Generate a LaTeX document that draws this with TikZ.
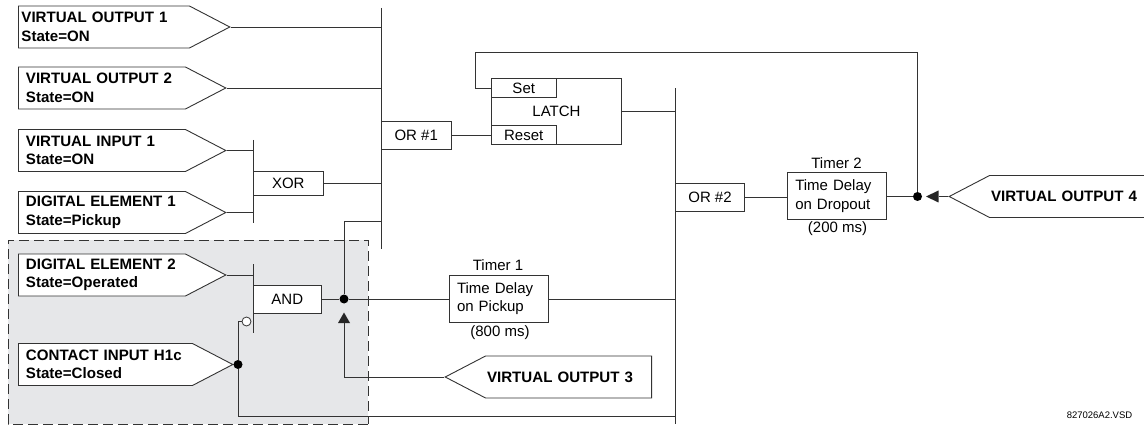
\documentclass[tikz,border=0pt]{standalone}
\usepackage{fontspec}
\setmainfont{Liberation Sans}
\usetikzlibrary{shapes.symbols}
\definecolor{linegray}{HTML}{333333}
\definecolor{zonegray}{HTML}{E6E7E9}
\tikzset{
    wire/.style={draw=linegray, line width=0.9pt},
    tagout/.style={draw=linegray, line width=0.9pt, fill=white, shape=signal, signal to=east,
        signal pointer angle=55, minimum height=42pt, inner ysep=0pt, align=left,
        font=\fontsize{15.1}{18.5}\selectfont\bfseries, anchor=west},
    tagin/.style={tagout, signal to=west, anchor=east, inner xsep=1.5pt},
    gatebox/.style={draw=linegray, line width=0.9pt, fill=white, inner sep=0pt,
        font=\fontsize{15}{18.5}\selectfont},
    plain/.style={inner sep=0pt, font=\fontsize{15}{18.5}\selectfont},
    timerbox/.style={gatebox, align=left, inner xsep=7.5pt, text width=83.5pt, minimum height=47pt},
    junction/.style={circle, fill=black, inner sep=0pt, minimum size=9pt}
}
\begin{document}
\begin{tikzpicture}[x=1pt,y=-1pt]
    \useasboundingbox (0,0) rectangle (1144,425);

    % 1. Vung nen xam
    \fill[zonegray] (8,240) rectangle (368,424);
    \draw[linegray, line width=0.8pt, dash pattern=on 10pt off 5pt] (368,424) -- (8,424) -- (8,240) -- (368,240) -- (368,424);

    % 2. Cac thanh gop
    \coordinate (bus1top) at (381,8);
    \coordinate (bus1bot) at (381,249);
    \coordinate (bus2top) at (675.5,88.5);
    \coordinate (bus2bot) at (675.5,424);
    \coordinate (xortop) at (253,140);
    \coordinate (xorbot) at (253,223);
    \coordinate (andtop) at (253,264);
    \coordinate (andbot) at (253,333);
    \draw[wire] (bus1top) -- (bus1bot);
    \draw[wire] (bus2top) -- (bus2bot);
    \draw[wire] (xortop) -- (xorbot);
    \draw[wire] (andtop) -- (andbot);

    % 3. Cac tin hieu vao
    \node[tagout, inner xsep=3pt, text width=165pt] (vo1) at (18,27) {VIRTUAL OUTPUT 1\\State=ON};
    \node[tagout, inner xsep=7.5pt, text width=152pt] (vo2) at (18,88) {VIRTUAL OUTPUT 2\\State=ON};
    \node[tagout, inner xsep=7.5pt, text width=152pt] (vi1) at (18,150.5) {VIRTUAL INPUT 1\\State=ON};
    \node[tagout, inner xsep=7.5pt, text width=152pt] (de1) at (18,212.5) {DIGITAL ELEMENT 1\\State=Pickup};
    \node[tagout, inner xsep=7.5pt, text width=152pt] (de2) at (18,275) {DIGITAL ELEMENT 2\\State=Operated};
    \node[tagout, inner xsep=7.5pt, text width=159pt] (ci1) at (18,364.5) {CONTACT INPUT H1c\\State=Closed};
    \node[tagin, text width=163pt] (vo3) at (652,377) {VIRTUAL OUTPUT 3};
    \node[tagin, text width=163pt] (vo4) at (1156,196.5) {VIRTUAL OUTPUT 4};

    % 4. Cac khoi logic
    \node[gatebox, minimum width=70.5pt, minimum height=23.5pt] (xor) at (288.25,183.25) {XOR};
    \node[gatebox, minimum width=68.5pt, minimum height=28pt] (and) at (287.25,299) {AND};
    \node[gatebox, minimum width=70.5pt, minimum height=28pt] (or1) at (416.25,135) {OR \#1};
    \node[gatebox, minimum width=69pt, minimum height=28pt] (or2) at (710,197) {OR \#2};
    \node[gatebox, minimum width=130pt, minimum height=66.5pt] (latch) at (556.5,111.25) {LATCH};
    \node[gatebox, minimum width=64.5pt, minimum height=19pt] (set) at (523.75,88) {Set};
    \node[gatebox, minimum width=64.5pt, minimum height=19pt] (reset) at (523.75,135) {Reset};

    % 5. Hai bo dinh thoi
    \node[timerbox] (timer1) at (498.75,298.5) {Time Delay\\on Pickup};
    \node[timerbox] (timer2) at (837,196) {Time Delay\\on Dropout};
    \node[plain] (t1name) at (498,265.5) {Timer 1};
    \node[plain] (t1val) at (500,333) {(800 ms)};
    \node[plain] (t2name) at (836.5,163) {Timer 2};
    \node[plain] (t2val) at (837.5,229) {(200 ms)};

    % 6. Cac diem noi
    \node[junction] (dotand) at (344,299) {};
    \node[junction] (dotci) at (238,364.5) {};
    \node[junction] (dottimer) at (917.5,196.5) {};
    \node[circle, draw=linegray, line width=0.8pt, fill=white, inner sep=0pt, minimum size=9pt] (notgate) at (246.5,321.5) {};
    \coordinate (tri3) at (344,323);
    \coordinate (tri4) at (938.5,196.5);
    \fill[black!85] (344,312.5) -- (350,323) -- (338,323) -- cycle;
    \fill[black!85] (926,196.5) -- (938.5,190.5) -- (938.5,202.5) -- cycle;

    % 7. Day noi
    \draw[wire] (vo1.east) -- (vo1.east -| bus1top);
    \draw[wire] (vo2.east) -- (vo2.east -| bus1top);
    \draw[wire] (vi1.east) -- (vi1.east -| xortop);
    \draw[wire] (de1.east) -- (de1.east -| xortop);
    \draw[wire] (de2.east) -- (de2.east -| andtop);
    \draw[wire] (xor.east) -- (xor.east -| bus1top);
    \draw[wire] (and.east) -- (dotand);
    \draw[wire] (dotand) -- (timer1.west |- dotand);
    \draw[wire] (dotand) |- (bus1bot |- 0,221);
    \draw[wire] (ci1.east) -- (dotci);
    \draw[wire] (dotci) |- (notgate.west);
    \draw[wire] (dotci) |- (bus2top |- 0,416.5);
    \draw[wire] (tri3) |- (vo3.west);
    \draw[wire] (timer1.east |- dotand) -- (bus2top |- dotand);
    \draw[wire] (or1.east) -- (reset.west);
    \draw[wire] (latch.east) -- (latch.east -| bus2top);
    \draw[wire] (or2.east) -- (timer2.west |- or2.east);
    \draw[wire] (timer2.east |- dottimer) -- (dottimer);
    \draw[wire] (dottimer) |- (475,52) |- (set.west);
    \draw[wire] (tri4) -- (vo4.west);

    % 8. Ma ban ve
    \node[inner sep=0pt, font=\fontsize{9.5}{11}\selectfont] (code) at (1099.5,415) {827026A2.VSD};
\end{tikzpicture}
\end{document}
